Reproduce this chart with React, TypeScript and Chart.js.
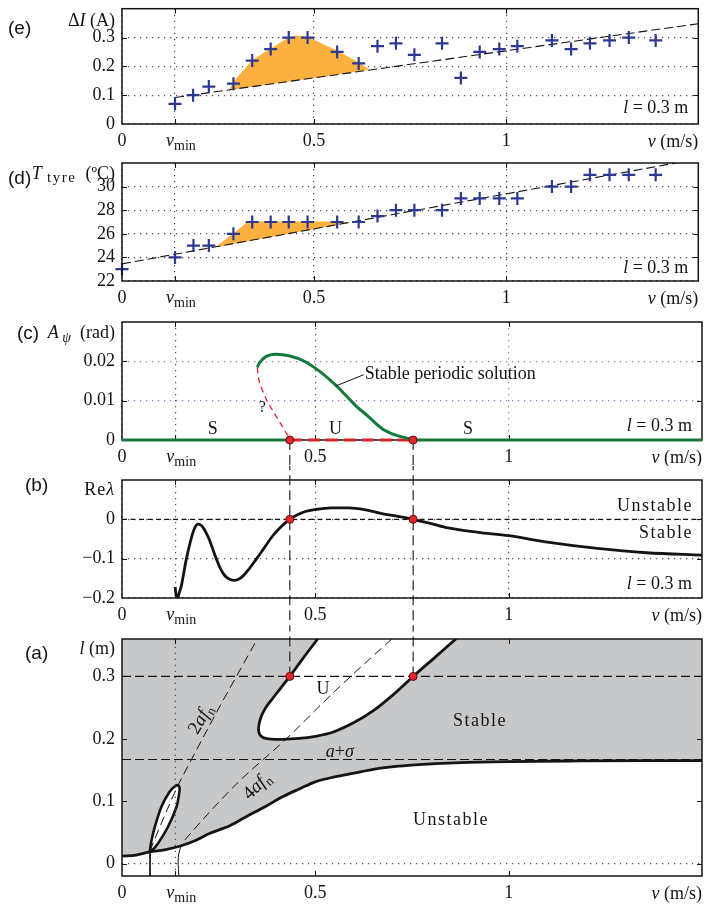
import React, { useEffect, useRef } from 'react';
import { Chart, registerables } from 'chart.js';
Chart.register(...registerables);

const SERIF = '"Liberation Serif", "Times New Roman", serif';
const SANS = '"Liberation Sans", Arial, sans-serif';
const BLUE = '#2b3990';
const ORANGE = '#fbb03f';
const GREEN = '#127a3c';
const RED = '#d8262c';
const GRAY = '#c7c8ca';
const INK = '#141414';

// ---------- shared x axis ----------
const V_MIN = 0.138;
const xTickValues = [0, V_MIN, 0.5, 1];
const xTickLabels = ['0', '', '0.5', '1'];
const bifurcationV = [0.434, 0.753];

// ---------- (e) current ----------
const eSpeed = [0.138, 0.185, 0.226, 0.29, 0.339, 0.387, 0.434, 0.483, 0.56, 0.616, 0.665, 0.713, 0.761, 0.833, 0.882, 0.931, 0.982, 1.029, 1.119, 1.169, 1.218, 1.269, 1.319, 1.389];
const eCurrent = [0.07, 0.1, 0.13, 0.14, 0.22, 0.26, 0.3, 0.3, 0.25, 0.21, 0.27, 0.28, 0.24, 0.28, 0.16, 0.25, 0.26, 0.27, 0.29, 0.26, 0.28, 0.29, 0.3, 0.29];
const eFitV = [0.138, 1.5];
const eFitI = [0.092, 0.348];
const eBandV = [0.278, 0.292, 0.339, 0.387, 0.434, 0.455, 0.483, 0.56, 0.616, 0.645, 0.278];
const eBandI = [0.117, 0.15, 0.222, 0.262, 0.3, 0.307, 0.302, 0.255, 0.213, 0.188, 0.117];
const eYTicks = [0, 0.1, 0.2, 0.3];
const eYLabels = ['0', '0.1', '0.2', '0.3'];

// ---------- (d) tyre temperature ----------
const dSpeed = [0, 0.138, 0.186, 0.226, 0.29, 0.339, 0.387, 0.434, 0.483, 0.56, 0.616, 0.665, 0.713, 0.761, 0.833, 0.882, 0.931, 0.982, 1.029, 1.119, 1.169, 1.218, 1.269, 1.319, 1.389];
const dTemp = [23, 24, 25, 25, 26, 27, 27, 27, 27, 27, 27, 27.5, 28, 28, 28, 29, 29, 29, 29, 30, 30, 31, 31, 31, 31];
const dFitV = [0, 1.5];
const dFitT = [23.45, 32.35];
const dBandV = [0.243, 0.329, 0.56, 0.597, 0.243];
const dBandT = [24.86, 27.05, 27.05, 26.98, 24.86];
const dYTicks = [22, 24, 26, 28, 30];
const dYLabels = ['22', '24', '26', '28', '30'];

// ---------- (c) amplitude ----------
const cStableLeftV = [0, 0.434];
const cStableRightV = [0.753, 1.5];
const cUnstableV = [0.434, 0.753];
const cPeriodicV = [0.35, 0.355, 0.372, 0.398, 0.432, 0.474, 0.517, 0.552, 0.586, 0.607, 0.638, 0.671, 0.706, 0.74, 0.753];
const cPeriodicA = [0.0185, 0.0195, 0.0212, 0.0218, 0.0214, 0.0199, 0.017, 0.014, 0.0106, 0.0085, 0.0059, 0.003, 0.0013, 0.0004, 0];
const cUnknownV = [0.35, 0.352, 0.356, 0.363, 0.375, 0.389, 0.402, 0.415, 0.426, 0.432, 0.434];
const cUnknownA = [0.0185, 0.0165, 0.0145, 0.0127, 0.01, 0.0076, 0.0055, 0.0034, 0.0016, 0.0008, 0];
const cLeaderV = [0.552, 0.625];
const cLeaderA = [0.0137, 0.0166];
const cYTicks = [0, 0.01, 0.02];
const cYLabels = ['0', '0.01', '0.02'];

// ---------- (b) real part of eigenvalue ----------
const bV = [0.1375, 0.14, 0.142, 0.144, 0.147, 0.153, 0.159, 0.166, 0.175, 0.183, 0.19, 0.196, 0.203, 0.209, 0.218, 0.226, 0.24, 0.252, 0.262, 0.27, 0.28, 0.29, 0.3, 0.312, 0.328, 0.346, 0.366, 0.389, 0.41, 0.434, 0.455, 0.474, 0.5, 0.542, 0.586, 0.63, 0.672, 0.71, 0.753, 0.8, 0.843, 0.92, 1.0, 1.1, 1.229, 1.357, 1.5];
const bRe = [-0.172, -0.195, -0.207, -0.203, -0.19, -0.171, -0.14, -0.103, -0.064, -0.035, -0.018, -0.012, -0.014, -0.02, -0.035, -0.052, -0.09, -0.12, -0.138, -0.147, -0.153, -0.155, -0.153, -0.145, -0.127, -0.103, -0.075, -0.043, -0.02, 0, 0.012, 0.02, 0.025, 0.029, 0.029, 0.024, 0.0145, 0.008, 0, -0.011, -0.022, -0.033, -0.0415, -0.058, -0.074, -0.085, -0.091];
const bYTicks = [-0.2, -0.1, 0];
const bYLabels = ['\u22120.2', '\u22120.1', '0'];

// ---------- (a) stability chart ----------
const aLowerV = [0, 0.036, 0.072, 0.11, 0.149, 0.19, 0.226, 0.28, 0.32, 0.37, 0.415, 0.46, 0.5, 0.55, 0.6, 0.65, 0.715, 0.78, 0.843, 0.92, 1.0, 1.186, 1.35, 1.5];
const aLowerL = [0.012, 0.0135, 0.0186, 0.022, 0.0277, 0.037, 0.048, 0.061, 0.0747, 0.091, 0.107, 0.12, 0.131, 0.139, 0.145, 0.151, 0.156, 0.159, 0.161, 0.1625, 0.1635, 0.1645, 0.165, 0.165];
const aUnstableV = [0.518, 0.506, 0.468, 0.434, 0.41, 0.39, 0.375, 0.363, 0.356, 0.353, 0.357, 0.367, 0.385, 0.415, 0.458, 0.5, 0.543, 0.6, 0.65, 0.7, 0.753, 0.81, 0.865, 0.885];
const aUnstableL = [0.37, 0.36, 0.329, 0.3, 0.281, 0.265, 0.253, 0.24, 0.228, 0.215, 0.206, 0.2015, 0.1995, 0.199, 0.2005, 0.204, 0.21, 0.226, 0.245, 0.27, 0.3, 0.331, 0.361, 0.372];
const aLensV = [0.072, 0.076, 0.085, 0.102, 0.123, 0.137, 0.145, 0.149, 0.148, 0.141, 0.119, 0.093, 0.079, 0.072];
const aLensL = [0.02, 0.036, 0.059, 0.091, 0.115, 0.124, 0.1255, 0.121, 0.113, 0.091, 0.059, 0.032, 0.022, 0.02];
const aTwoAfV = [0.072, 0.1, 0.125, 0.145, 0.179, 0.22, 0.26, 0.295, 0.35, 0.36];
const aTwoAfL = [0.02, 0.062, 0.098, 0.1255, 0.166, 0.214, 0.26, 0.299, 0.36, 0.371];
const aFourAfV = [0.162, 0.22, 0.3, 0.425, 0.55, 0.698, 0.72];
const aFourAfL = [0.0375, 0.078, 0.13, 0.2, 0.276, 0.36, 0.372];
const aThinAV = [0.0725, 0.0725];
const aThinAL = [0.02, -0.03];
const aThinBV = [0.153, 0.147, 0.145, 0.146, 0.148];
const aThinBL = [0.029, 0.016, 0.004, -0.008, -0.03];
const aLevel = 0.3;
const aSigma = 0.1667;
const aYTicks = [0, 0.1, 0.2, 0.3];
const aYLabels = ['0', '0.1', '0.2', '0.3'];

// ---------- helpers ----------
const pts = (xs: number[], ys: number[]) => xs.map((x, i) => ({ x, y: ys[i] }));
const flat = (xs: number[], y: number) => xs.map((x) => ({ x, y }));

function line(data: any[], color: string, width: number, dash: number[] = [], extra: any = {}) {
  return {
    data, showLine: true, borderColor: color, borderWidth: width, borderDash: dash,
    pointRadius: 0, pointHoverRadius: 0, fill: false, tension: 0, ...extra,
  };
}
function polygon(data: any[], fillColor: string, extra: any = {}) {
  return line(data, 'rgba(0,0,0,0)', 0, [], { fill: 'shape', backgroundColor: fillColor, ...extra });
}
function crosses(xs: number[], ys: number[]) {
  return {
    data: pts(xs, ys), showLine: false, pointStyle: 'cross', pointRadius: 6.5, pointHoverRadius: 6.5,
    pointBorderWidth: 2.2, pointBorderColor: BLUE, pointBackgroundColor: BLUE, clip: false, order: 1,
  };
}
function dots(xs: number[], y: number) {
  return {
    data: flat(xs, y), showLine: false, pointStyle: 'circle', pointRadius: 4, pointHoverRadius: 4,
    pointBackgroundColor: '#e5252b', pointBorderColor: '#5c0a0a', pointBorderWidth: 1, clip: false, order: 0,
  };
}
function connectors(yFrom: number, yTo: number) {
  return bifurcationV.map((v) =>
    line(pts([v, v], [yFrom, yTo]), INK, 1.1, [10, 5], { clip: false, order: 2 }));
}

type Part = { t: string; it?: boolean; sz?: number; dy?: number; sans?: boolean; ls?: number };
type Label = {
  parts: Part[]; xd?: number; yd?: number; xl?: number; xr?: number; yt?: number; yb?: number;
  dx?: number; dy?: number; align?: 'left' | 'right' | 'center'; rot?: number; ls?: number; size?: number;
};
const fontOf = (p: Part, base: number) => `${p.it ? 'italic ' : ''}${p.sz ?? base}px ${p.sans ? SANS : SERIF}`;

function drawFrame(chart: any) {
  const { ctx, chartArea: a, scales } = chart;
  const xs = scales.x, ys = scales.y;
  ctx.save();
  ctx.strokeStyle = INK;
  ctx.lineWidth = 1;
  ctx.setLineDash([]);
  const tl = 5;
  for (const t of xs.ticks) {
    if (t.value <= xs.min || t.value >= xs.max) continue;
    const px = Math.round(xs.getPixelForValue(t.value)) + 0.5;
    ctx.beginPath();
    ctx.moveTo(px, a.bottom); ctx.lineTo(px, a.bottom - tl);
    ctx.moveTo(px, a.top); ctx.lineTo(px, a.top + tl);
    ctx.stroke();
  }
  for (const t of ys.ticks) {
    if (t.value <= ys.min || t.value >= ys.max) continue;
    const py = Math.round(ys.getPixelForValue(t.value)) + 0.5;
    ctx.beginPath();
    ctx.moveTo(a.left, py); ctx.lineTo(a.left + tl, py);
    ctx.moveTo(a.right, py); ctx.lineTo(a.right - tl, py);
    ctx.stroke();
  }
  ctx.lineWidth = 1.5;
  ctx.strokeRect(a.left, a.top, a.right - a.left, a.bottom - a.top);
  ctx.restore();
}

function makeDecor(labels: Label[], frameUnder = false) {
  return {
    id: 'decor',
    beforeDatasetsDraw(chart: any) { if (frameUnder) drawFrame(chart); },
    afterDatasetsDraw(chart: any) { if (!frameUnder) drawFrame(chart); },
    afterDraw(chart: any) {
      const { ctx, chartArea: a, scales } = chart;
      for (const L of labels) {
        const base = L.size ?? 18;
        let x = L.xd !== undefined ? scales.x.getPixelForValue(L.xd)
          : L.xl !== undefined ? a.left + L.xl : a.right + (L.xr ?? 0);
        let y = L.yd !== undefined ? scales.y.getPixelForValue(L.yd)
          : L.yt !== undefined ? a.top + L.yt : a.bottom + (L.yb ?? 0);
        x += L.dx ?? 0; y += L.dy ?? 0;
        ctx.save();
        ctx.fillStyle = INK;
        ctx.textBaseline = 'alphabetic';
        ctx.textAlign = 'left';
        const setPart = (p: Part) => {
          ctx.font = fontOf(p, base);
          (ctx as any).letterSpacing = `${p.ls ?? L.ls ?? 0}px`;
        };
        const widths = L.parts.map((p) => { setPart(p); return ctx.measureText(p.t).width; });
        const total = widths.reduce((s, w) => s + w, 0);
        let start = L.align === 'right' ? -total : L.align === 'left' ? 0 : -total / 2;
        ctx.translate(x, y);
        if (L.rot) ctx.rotate((L.rot * Math.PI) / 180);
        const baseY = base * 0.34;
        L.parts.forEach((p, i) => {
          setPart(p);
          ctx.fillText(p.t, start, baseY + (p.dy ?? 0));
          start += widths[i];
        });
        ctx.restore();
      }
    },
  };
}

const xAxisLabels: Label[] = [
  { parts: [{ t: 'v', it: true, dy: -1 }, { t: 'min', sz: 14, dy: 3 }], xd: V_MIN, dx: -9, yb: 17, align: 'left' },
  { parts: [{ t: 'v', it: true }, { t: ' (m/s)' }], xr: 0, yb: 17, align: 'right' },
];
const lengthLabel = (yb: number): Label =>
  ({ parts: [{ t: 'l', it: true }, { t: ' = 0.3 m' }], xr: -10, yb, align: 'right' });

const DOT = '#4a4a4a';
const PURPLE = '#b066c4';

function options(p: {
  yMin: number; yMax: number; yTicks: number[]; yLabels: string[]; padTop: number; xH: number;
  xGrid?: any; yGrid?: any; grid?: boolean;
}) {
  const showGrid = p.grid !== false;
  return {
    responsive: false,
    animation: false,
    devicePixelRatio: 1,
    events: [],
    layout: { padding: { top: p.padTop, right: 2, left: 0, bottom: 0 } },
    plugins: { legend: { display: false }, tooltip: { enabled: false } },
    scales: {
      x: {
        type: 'linear', min: 0, max: 1.5,
        afterBuildTicks: (s: any) => { s.ticks = xTickValues.map((v) => ({ value: v })); },
        afterFit: (s: any) => { s.height = p.xH; s.paddingLeft = 0; s.paddingRight = 0; s.paddingTop = 0; s.paddingBottom = 0; },
        ticks: {
          autoSkip: false, maxRotation: 0, minRotation: 0, padding: 6, color: INK,
          font: { family: SERIF, size: 18 },
          callback: (v: number) => { const i = xTickValues.indexOf(v); return i >= 0 ? xTickLabels[i] : ''; },
        },
        grid: { display: showGrid, color: p.xGrid ?? DOT, lineWidth: 1.2, drawTicks: false },
        border: { display: false, dash: [1.2, 4.8] },
      },
      y: {
        type: 'linear', min: p.yMin, max: p.yMax,
        afterBuildTicks: (s: any) => { s.ticks = p.yTicks.map((v) => ({ value: v })); },
        afterFit: (s: any) => { s.width = 122; s.paddingTop = 0; s.paddingBottom = 0; s.paddingLeft = 0; s.paddingRight = 0; },
        ticks: {
          autoSkip: false, padding: 7, color: INK, font: { family: SERIF, size: 18 },
          callback: (v: number) => { const i = p.yTicks.indexOf(v); return i >= 0 ? p.yLabels[i] : ''; },
        },
        grid: { display: showGrid, color: p.yGrid ?? DOT, lineWidth: 1.2, drawTicks: false },
        border: { display: false, dash: [1.2, 4.8] },
      },
    },
  };
}

function buildE() {
  return {
    type: 'scatter',
    data: {
      datasets: [
        polygon(pts(eBandV, eBandI), ORANGE, { order: 5 }),
        line(pts(eFitV, eFitI), INK, 1.1, [9, 4], { order: 4 }),
        crosses(eSpeed, eCurrent),
      ],
    },
    options: options({ yMin: 0, yMax: 0.4, yTicks: eYTicks, yLabels: eYLabels, padTop: 4, xH: 26 }),
    plugins: [makeDecor([
      { parts: [{ t: '(e)', sans: true, sz: 19 }], xl: -114, yt: 19, align: 'left' },
      { parts: [{ t: '\u0394' }, { t: 'I', it: true }, { t: ' (A)' }], xl: -7, yt: 11, align: 'right' },
      lengthLabel(-16.7),
      ...xAxisLabels,
    ])],
  };
}

function buildD() {
  return {
    type: 'scatter',
    data: {
      datasets: [
        polygon(pts(dBandV, dBandT), ORANGE, { order: 5 }),
        line(pts(dFitV, dFitT), INK, 1.1, [9, 4], { order: 4 }),
        crosses(dSpeed, dTemp),
      ],
    },
    options: options({ yMin: 22, yMax: 32, yTicks: dYTicks, yLabels: dYLabels, padTop: 13, xH: 27 }),
    plugins: [makeDecor([
      { parts: [{ t: '(d)', sans: true, sz: 19 }], xl: -114, yt: 15, align: 'left' },
      { parts: [{ t: 'T', it: true }, { t: ' tyre', sz: 15, dy: 3, ls: 1.5 }, { t: '  (\u00baC)' }], xl: -7, yt: 10, align: 'right' },
      lengthLabel(-14.3),
      ...xAxisLabels,
    ])],
  };
}

function buildC() {
  return {
    type: 'scatter',
    data: {
      datasets: [
        line(flat(cStableLeftV, 0), GREEN, 3, [], { order: 6, clip: false }),
        line(flat(cStableRightV, 0), GREEN, 3, [], { order: 6, clip: false }),
        line(flat(cUnstableV, 0), RED, 3, [12, 6], { order: 5, clip: false }),
        line(pts(cPeriodicV, cPeriodicA), GREEN, 3, [], { cubicInterpolationMode: 'monotone', order: 4 }),
        line(pts(cUnknownV, cUnknownA), RED, 1.3, [6, 4], { cubicInterpolationMode: 'monotone', order: 4 }),
        line(pts(cLeaderV, cLeaderA), INK, 1, [], { order: 3 }),
        ...connectors(0, -0.03),
        dots(bifurcationV, 0),
      ],
    },
    options: options({
      yMin: 0, yMax: 0.03, yTicks: cYTicks, yLabels: cYLabels, padTop: 14, xH: 26,
      xGrid: (c: any) => (c.tick && c.tick.value === 1 ? PURPLE : DOT), yGrid: PURPLE,
    }),
    plugins: [makeDecor([
      { parts: [{ t: '(c)', sans: true, sz: 19 }], xl: -105, yt: 11, align: 'left' },
      { parts: [{ t: 'A', it: true }, { t: ' \u03c8', it: true, sz: 14, dy: 4 }, { t: '  (rad)' }], xl: -7, yt: 9.4, align: 'right' },
      { parts: [{ t: 'S' }], xd: 0.235, yd: 0.0031 },
      { parts: [{ t: 'U' }], xd: 0.552, yd: 0.0031 },
      { parts: [{ t: 'S' }], xd: 0.895, yd: 0.0031 },
      { parts: [{ t: '?' }], xd: 0.363, yd: 0.0085, size: 16 },
      { parts: [{ t: 'Stable periodic solution' }], xd: 0.628, yd: 0.017, align: 'left' },
      lengthLabel(-15),
      ...xAxisLabels,
    ], true)],
  };
}

function buildB() {
  return {
    type: 'scatter',
    data: {
      datasets: [
        line(flat([0, 1.5], 0), INK, 1.1, [5, 3.5], { order: 5 }),
        line(pts(bV, bRe), INK, 2.8, [], { cubicInterpolationMode: 'monotone', order: 3 }),
        ...connectors(-0.6, 0.5),
        dots(bifurcationV, 0),
      ],
    },
    options: options({ yMin: -0.2, yMax: 0.1, yTicks: bYTicks, yLabels: bYLabels, padTop: 14, xH: 28 }),
    plugins: [makeDecor([
      { parts: [{ t: '(b)', sans: true, sz: 19 }], xl: -97, yt: 5, align: 'left' },
      { parts: [{ t: 'Re' }, { t: '\u03bb', it: true }], xl: -7, yt: 9.3, align: 'right', ls: 1 },
      { parts: [{ t: 'Unstable' }], xr: -9, yd: 0.037, align: 'right', ls: 1.5 },
      { parts: [{ t: 'Stable' }], xr: -9, yd: -0.033, align: 'right', ls: 1.5 },
      lengthLabel(-15),
      ...xAxisLabels,
    ])],
  };
}

function buildA() {
  return {
    type: 'scatter',
    data: {
      datasets: [
        line(pts(aLowerV, aLowerL), INK, 2.8, [], { fill: 'end', backgroundColor: GRAY, cubicInterpolationMode: 'monotone', order: 20 }),
        line(pts(aUnstableV, aUnstableL), INK, 2.8, [], { fill: 'shape', backgroundColor: '#ffffff', tension: 0.3, order: 19 }),
        line(pts(aLensV, aLensL), INK, 2.6, [], { fill: 'shape', backgroundColor: '#ffffff', tension: 0.3, order: 18 }),
        line(pts(aThinAV, aThinAL), INK, 1, [], { order: 10 }),
        line(pts(aThinBV, aThinBL), INK, 1, [], { tension: 0.3, order: 10 }),
        line(pts([V_MIN, V_MIN], [-0.02, 0.36]), DOT, 1.2, [1.2, 4.8], { order: 9 }),
        line(flat([0, 1.5], 0), DOT, 1.2, [1.2, 4.8], { order: 9 }),
        line(pts(aTwoAfV, aTwoAfL), INK, 1, [9, 5], { cubicInterpolationMode: 'monotone', order: 8 }),
        line(pts(aFourAfV, aFourAfL), INK, 1, [9, 5], { cubicInterpolationMode: 'monotone', order: 8 }),
        line(flat([0, 1.5], aLevel), INK, 1.1, [9, 4], { order: 7 }),
        line(flat([0, 1.5], aSigma), INK, 1.1, [9, 4], { order: 7 }),
        ...connectors(aLevel, 0.8),
        dots(bifurcationV, aLevel),
      ],
    },
    options: options({ yMin: -0.02, yMax: 0.36, yTicks: aYTicks, yLabels: aYLabels, padTop: 13, xH: 28, grid: false }),
    plugins: [makeDecor([
      { parts: [{ t: '(a)', sans: true, sz: 19 }], xl: -97, yt: 14, align: 'left' },
      { parts: [{ t: 'l', it: true }, { t: ' (m)' }], xl: -7, yt: 9.3, align: 'right' },
      { parts: [{ t: 'U' }], xd: 0.52, yd: 0.281 },
      { parts: [{ t: 'Stable' }], xd: 0.926, yd: 0.2297, ls: 1.5 },
      { parts: [{ t: 'Unstable' }], xd: 0.851, yd: 0.0721, ls: 1.5 },
      { parts: [{ t: 'a', it: true }, { t: '+' }, { t: '\u03c3', it: true }], xd: 0.527, yd: 0.1805, align: 'left' },
      { parts: [{ t: '2' }, { t: 'af', it: true }, { t: 'n', sz: 13, dy: 4 }], xd: 0.2007, yd: 0.2324, rot: -60, size: 19 },
      { parts: [{ t: '4' }, { t: 'af', it: true }, { t: 'n', sz: 13, dy: 4 }], xd: 0.3465, yd: 0.1255, rot: -44, size: 19 },
      ...xAxisLabels,
    ])],
  };
}

function Panel({ top, height, build }: { top: number; height: number; build: () => any }) {
  const ref = useRef<HTMLCanvasElement>(null);
  useEffect(() => {
    const chart = new Chart(ref.current as HTMLCanvasElement, build() as any);
    return () => chart.destroy();
  }, [build]);
  return (
    <canvas
      ref={ref}
      width={707}
      height={height}
      style={{ position: 'absolute', left: 0, top, width: 707, height, display: 'block' }}
    />
  );
}

export default function App() {
  return (
    <div style={{ position: 'absolute', left: 0, top: 0, width: 707, height: 904, background: '#ffffff', overflow: 'hidden' }}>
      <Panel top={0} height={150} build={buildE} />
      <Panel top={150} height={158} build={buildD} />
      <Panel top={308} height={158} build={buildC} />
      <Panel top={466} height={160} build={buildB} />
      <Panel top={626} height={278} build={buildA} />
    </div>
  );
}
